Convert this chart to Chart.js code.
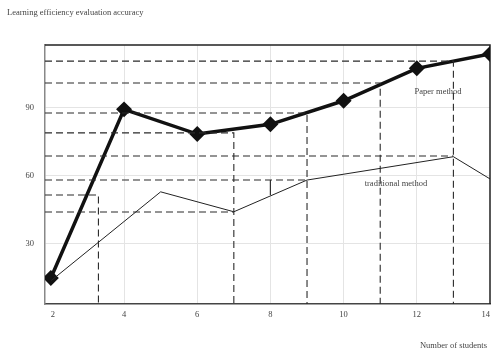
<!DOCTYPE html>
<html>
<head>
<meta charset="utf-8">
<script src="https://cdn.jsdelivr.net/npm/chart.js@4.4.1/dist/chart.umd.min.js"></script>
<style>
  html, body { margin: 0; padding: 0; background: #fff; }
  #wrap { width: 492px; height: 354px; }
</style>
</head>
<body>
<div id="wrap"><canvas id="chart" width="492" height="354"></canvas></div>
<script>
// axis settings
const xTicks = [2, 4, 6, 8, 10, 12, 14];
const yTicks = [30, 60, 90];
const xMin = 1.84, xMax = 14;
const yMin = 3.5, yMax = 117.8;

// Paper method (thick line with diamonds)
const paperX = [2, 4, 6, 8, 10, 12, 14];
const paperY = [15, 89.4, 78.5, 82.8, 93.2, 107.5, 113.8];

// traditional method (thin line)
const tradX = [2, 5, 7, 9, 13, 14];
const tradY = [13.7, 53, 44.2, 58.2, 68.5, 58.7];

// dashed guides that run across then drop to the x axis
const dropLevels = [110.7, 101, 87.8, 79, 51.6];
const dropAt = [13, 11, 9, 7, 3.3];

// dashed guides that only run across
const flatLevels = [68.8, 58.2, 44.1];
const flatTo = [13, 9, 7];

// short solid tick at x = 8
const tickX = 8;
const tickFrom = 58.2, tickTo = 51.6;

const toPoints = (xs, ys) => xs.map((x, i) => ({ x: x, y: ys[i] }));

const dashStyle = {
    borderColor: '#2a2a2a',
    borderWidth: 1.1,
    borderDash: [7, 4],
    pointRadius: 0,
    tension: 0,
    fill: false
};

const guideSets = [];
dropLevels.forEach((lv, i) => {
    guideSets.push(Object.assign({
        data: [{ x: xMin, y: lv }, { x: dropAt[i], y: lv }, { x: dropAt[i], y: yMin }]
    }, dashStyle));
});
flatLevels.forEach((lv, i) => {
    guideSets.push(Object.assign({
        data: [{ x: xMin, y: lv }, { x: flatTo[i], y: lv }]
    }, dashStyle));
});

const serif = '"Liberation Serif", "Times New Roman", serif';

// frame, axis titles and in-plot labels
const extras = {
    id: 'extras',
    beforeDatasetsDraw(chart) {
        const { ctx, chartArea: a } = chart;
        ctx.save();
        ctx.strokeStyle = '#222';
        ctx.lineWidth = 1.5;
        ctx.beginPath();
        ctx.moveTo(a.left, a.top);
        ctx.lineTo(a.right, a.top);
        ctx.lineTo(a.right, a.bottom);
        ctx.stroke();
        ctx.restore();
    },
    afterDraw(chart) {
        const { ctx, scales } = chart;
        ctx.save();
        ctx.fillStyle = '#444';
        ctx.font = '8.5px ' + serif;
        ctx.textBaseline = 'middle';
        ctx.textAlign = 'left';
        ctx.fillText('Learning efficiency evaluation accuracy', 7, 13);
        ctx.textAlign = 'right';
        ctx.fillText('Number of students', 487, 346);
        ctx.textAlign = 'center';
        ctx.fillText('Paper method', scales.x.getPixelForValue(12.58), scales.y.getPixelForValue(97.2));
        ctx.fillText('traditional method', scales.x.getPixelForValue(11.43), scales.y.getPixelForValue(56.5));
        ctx.restore();
    }
};

new Chart(document.getElementById('chart'), {
    type: 'line',
    data: {
        datasets: [
            ...guideSets,
            {
                data: [{ x: tickX, y: tickFrom }, { x: tickX, y: tickTo }],
                borderColor: '#333',
                borderWidth: 1,
                pointRadius: 0,
                fill: false
            },
            {
                label: 'traditional method',
                data: toPoints(tradX, tradY),
                borderColor: '#222',
                borderWidth: 1,
                pointRadius: 0,
                tension: 0,
                fill: false
            },
            {
                label: 'Paper method',
                data: toPoints(paperX, paperY),
                borderColor: '#111',
                borderWidth: 3.5,
                pointStyle: 'rectRot',
                pointRadius: 5.5,
                pointBackgroundColor: '#111',
                pointBorderColor: '#111',
                tension: 0,
                fill: false
            }
        ]
    },
    options: {
        responsive: false,
        animation: false,
        events: [],
        layout: { autoPadding: false, padding: { top: 45, right: 2, left: 0, bottom: 0 } },
        plugins: {
            legend: { display: false },
            tooltip: { enabled: false },
            title: { display: false }
        },
        scales: {
            x: {
                type: 'linear',
                min: xMin,
                max: xMax,
                afterBuildTicks: (s) => { s.ticks = xTicks.map(v => ({ value: v })); },
                afterFit: (s) => { s.height = 50; s.paddingLeft = 0; s.paddingRight = 0; },
                ticks: {
                    autoSkip: false,
                    maxRotation: 0,
                    align: 'inner',
                    padding: 6,
                    color: '#444',
                    font: { family: serif, size: 8.5 }
                },
                grid: {
                    drawTicks: false,
                    color: (c) => (c.tick && (c.tick.value === 2 || c.tick.value === 14)) ? 'rgba(0,0,0,0)' : '#e4e4e4',
                    lineWidth: 1
                },
                border: { color: '#444', width: 1.5 }
            },
            y: {
                type: 'linear',
                min: yMin,
                max: yMax,
                afterBuildTicks: (s) => { s.ticks = yTicks.map(v => ({ value: v })); },
                afterFit: (s) => { s.width = 45; s.paddingTop = 0; s.paddingBottom = 0; },
                ticks: {
                    padding: 11,
                    color: '#444',
                    font: { family: serif, size: 8.5 }
                },
                grid: {
                    drawTicks: false,
                    color: '#e4e4e4',
                    lineWidth: 1
                },
                border: { color: '#888', width: 1.5 }
            }
        }
    },
    plugins: [extras]
});
</script>
</body>
</html>
